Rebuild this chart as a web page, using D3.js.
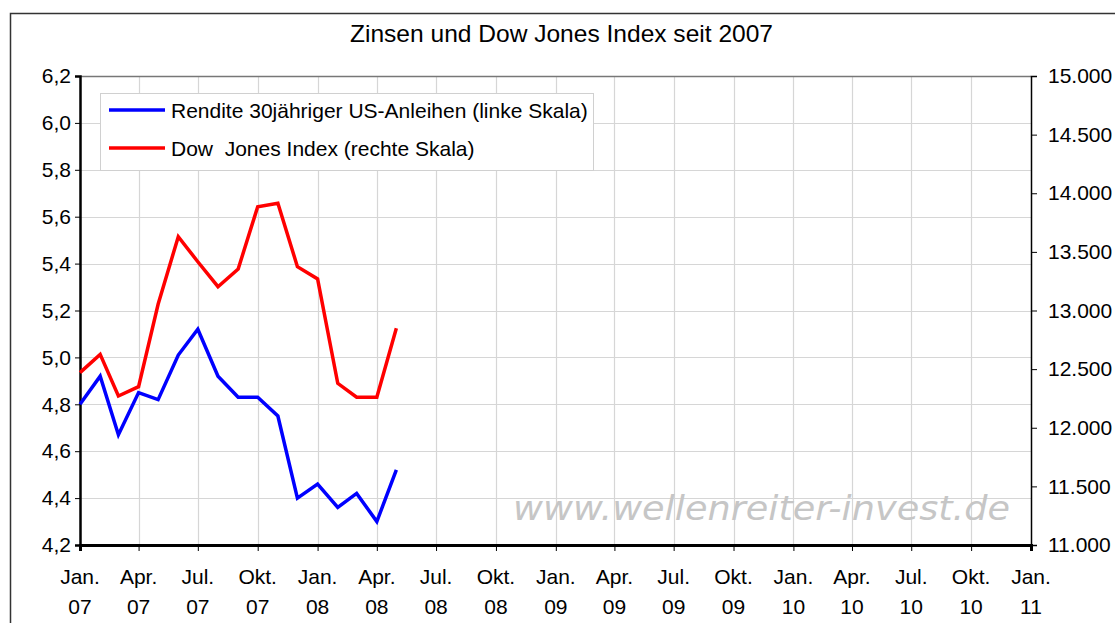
<!DOCTYPE html>
<html>
<head>
<meta charset="utf-8">
<script src="https://cdn.jsdelivr.net/npm/d3@7"></script>
<style>
body{margin:0;background:#fff}
svg{font-family:"Liberation Sans",Arial,sans-serif}
</style>
</head>
<body>
<div id="chart"></div>
<script>
// monthly values, Jan 07 - May 08
var months=["2007-01-01","2007-02-01","2007-03-01","2007-04-01","2007-05-01","2007-06-01","2007-07-01","2007-08-01","2007-09-01","2007-10-01","2007-11-01","2007-12-01","2008-01-01","2008-02-01","2008-03-01","2008-04-01","2008-05-01"]
var rendite=[4.80,4.92,4.67,4.85,4.82,5.01,5.12,4.92,4.83,4.83,4.75,4.40,4.46,4.36,4.42,4.30,4.52]
var dowJones=[12470,12626,12271,12350,13053,13630,13416,13203,13354,13885,13914,13374,13269,12379,12260,12260,12848]
var leftTicks=[4.2,4.4,4.6,4.8,5.0,5.2,5.4,5.6,5.8,6.0,6.2]
var rightTicks=[11000,11500,12000,12500,13000,13500,14000,14500,15000]
var monthNames={0:"Jan.",3:"Apr.",6:"Jul.",9:"Okt."}

var W=1115,H=623
var margin={top:76,right:84,bottom:78,left:80}
var width=W-margin.left-margin.right
var height=H-margin.top-margin.bottom

var svg=d3.select("#chart").append("svg")
	.attr("width",W)
	.attr("height",H)

// outer frame
svg.append("rect")
	.attr("x",10.5).attr("y",13.5)
	.attr("width",W).attr("height",H)
	.attr("fill","none").attr("stroke","#333").attr("stroke-width",1.5)

svg.append("text")
	.attr("x",350).attr("y",42)
	.attr("font-size",24)
	.attr("textLength",423).attr("lengthAdjust","spacingAndGlyphs")
	.text("Zinsen und Dow Jones Index seit 2007")

var xScale=d3.scaleTime()
	.domain([new Date(2007,0,1),new Date(2011,0,1)])
	.range([0,width])
var yLeft=d3.scaleLinear().domain([4.2,6.2]).range([height,0])
var yRight=d3.scaleLinear().domain([11000,15000]).range([height,0])

var xTicks=d3.timeMonth.every(3).range(new Date(2007,0,1),new Date(2011,0,2))

var g=svg.append("g").attr("transform","translate("+margin.left+","+margin.top+")")

// grid
g.append("g").selectAll("line").data(leftTicks.slice(1,-1)).join("line")
	.attr("x1",0).attr("x2",width)
	.attr("y1",d=>Math.round(yLeft(d))+0.5).attr("y2",d=>Math.round(yLeft(d))+0.5)
	.attr("stroke","#d6d6d6").attr("stroke-width",1.2)
g.append("g").selectAll("line").data(xTicks.slice(1,-1)).join("line")
	.attr("x1",d=>Math.round(xScale(d))+0.5).attr("x2",d=>Math.round(xScale(d))+0.5)
	.attr("y1",0).attr("y2",height)
	.attr("stroke","#d6d6d6").attr("stroke-width",1.2)

// top border of plot
g.append("line").attr("x1",0).attr("x2",width).attr("y1",0.5).attr("y2",0.5)
	.attr("stroke","#777").attr("stroke-width",1.5)

// watermark
g.append("text")
	.attr("x",433).attr("y",444)
	.attr("font-size",33).attr("font-style","italic")
	.attr("font-family","DejaVu Sans,Verdana,sans-serif")
	.attr("fill","#c6c6c6")
	.attr("textLength",497).attr("lengthAdjust","spacingAndGlyphs")
	.text("www.wellenreiter-invest.de")

// axes
var fmtLeft=d=>d3.format(".1f")(d).replace(".",",")

var axL=g.append("g").call(d3.axisLeft(yLeft).tickValues(leftTicks).tickFormat(d=>fmtLeft(d)).tickSizeOuter(0).tickSize(5).tickPadding(4))
var axR=g.append("g").attr("transform","translate("+width+",0)")
	.call(d3.axisRight(yRight).tickValues(rightTicks).tickFormat(d=>d3.format(",.0f")(d).replace(",",".")).tickSizeOuter(0).tickSize(6).tickPadding(11))
var axB=g.append("g").attr("transform","translate(0,"+height+")")
	.call(d3.axisBottom(xScale).tickValues(xTicks).tickFormat("").tickSizeOuter(0).tickSize(6))

;[axL,axR,axB].forEach(function(a){
	a.selectAll("text").attr("font-size",21).attr("fill","#000").attr("font-family","Liberation Sans,Arial,sans-serif")
	a.selectAll(".tick line").attr("stroke","#000")
})
axL.select(".domain").attr("stroke","#000").attr("stroke-width",2.5)
axR.select(".domain").attr("stroke","#000").attr("stroke-width",1.5)
axB.select(".domain").attr("stroke","#000").attr("stroke-width",3)

// two-line month labels
var xl=g.append("g").attr("font-size",21)
xl.selectAll("text.m").data(xTicks).join("text")
	.attr("x",d=>xScale(d)).attr("y",height+39)
	.attr("text-anchor","middle")
	.text(d=>monthNames[d.getMonth()])
xl.selectAll("text.y").data(xTicks).join("text")
	.attr("x",d=>xScale(d)).attr("y",height+69)
	.attr("text-anchor","middle")
	.text(d=>d3.timeFormat("%y")(d))

// lines
var dates=months.map(d=>d3.timeParse("%Y-%m-%d")(d))
var lineL=d3.line().x((d,i)=>xScale(dates[i])).y(d=>yLeft(d))
var lineR=d3.line().x((d,i)=>xScale(dates[i])).y(d=>yRight(d))

g.append("path").datum(rendite).attr("d",lineL)
	.attr("fill","none").attr("stroke","#0000ff").attr("stroke-width",3.5)
g.append("path").datum(dowJones).attr("d",lineR)
	.attr("fill","none").attr("stroke","#ff0000").attr("stroke-width",3.5)

// legend
var lg=svg.append("g").attr("transform","translate(100,93)")
lg.append("rect").attr("x",0.5).attr("y",0.5).attr("width",493).attr("height",77)
	.attr("fill","#fff").attr("stroke","#d0d0d0").attr("stroke-width",1)
var legendItems=[{name:"Rendite 30jähriger US-Anleihen (linke Skala)",color:"#0000ff"},{name:"Dow  Jones Index (rechte Skala)",color:"#ff0000"}]
legendItems.forEach(function(d,i){
	var y=17+i*38
	lg.append("line").attr("x1",9).attr("x2",65).attr("y1",y).attr("y2",y)
		.attr("stroke",d.color).attr("stroke-width",3.5)
	lg.append("text").attr("x",71).attr("y",y+7.5).attr("font-size",21)
		.attr("xml:space","preserve").style("white-space","pre")
		.text(d.name)
})
</script>
</body>
</html>
